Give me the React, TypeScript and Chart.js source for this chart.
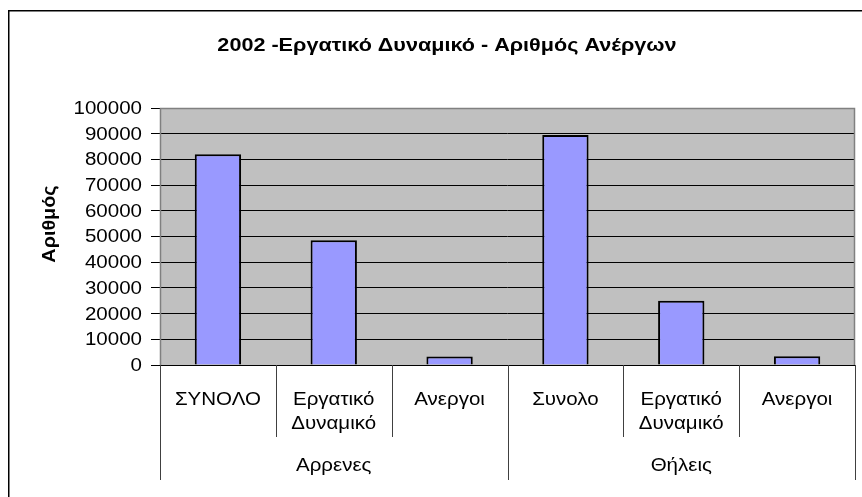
import React, { useEffect, useRef } from "react";
import { Chart, registerables } from "chart.js";

Chart.register(...registerables);

const chartTitle = "2002 -Εργατικό Δυναμικό - Αριθμός Ανέργων";
const yAxisTitle = "Αριθμός";
const categories: string[][] = [
  ["ΣΥΝΟΛΟ"],
  ["Εργατικό", "Δυναμικό"],
  ["Ανεργοι"],
  ["Συνολο"],
  ["Εργατικό", "Δυναμικό"],
  ["Ανεργοι"],
];
const groups = ["Αρρενες", "Θήλεις"];
const groupSizes = [3, 3];
const values = [82000, 48500, 3300, 89500, 25000, 3400];
const yMin = 0;
const yMax = 100000;
const yStep = 10000;

const FONT = '"Liberation Sans", Arial, sans-serif';

function drawText(
  ctx: CanvasRenderingContext2D,
  text: string,
  x: number,
  y: number,
  font: string,
  align: CanvasTextAlign,
  baseline: CanvasTextBaseline,
  sx: number,
  rotate = false
) {
  ctx.save();
  ctx.translate(x, y);
  if (rotate) ctx.rotate(-Math.PI / 2);
  ctx.scale(sx, 1);
  ctx.font = font;
  ctx.fillStyle = "#000";
  ctx.textAlign = align;
  ctx.textBaseline = baseline;
  ctx.fillText(text, 0, 0);
  ctx.restore();
}

const decorPlugin = {
  id: "decor",
  beforeDraw(chart: any) {
    const ctx: CanvasRenderingContext2D = chart.ctx;
    const a = chart.chartArea;
    ctx.save();
    ctx.fillStyle = "#fff";
    ctx.fillRect(0, 0, chart.width, chart.height);
    ctx.strokeStyle = "#000";
    ctx.lineWidth = 1.5;
    ctx.strokeRect(8.75, 10.75, 1000, 1000);
    ctx.fillStyle = "#C0C0C0";
    ctx.fillRect(a.left, a.top, a.right - a.left, a.bottom - a.top);
    ctx.restore();
  },
  afterDraw(chart: any) {
    const ctx: CanvasRenderingContext2D = chart.ctx;
    const a = chart.chartArea;
    const xs = chart.scales.x;
    const ys = chart.scales.y;
    ctx.save();
    ctx.strokeStyle = "#808080";
    ctx.lineWidth = 1.5;
    ctx.beginPath();
    ctx.moveTo(a.left + 0.5, a.bottom);
    ctx.lineTo(a.left + 0.5, a.top + 0.5);
    ctx.lineTo(a.right - 0.5, a.top + 0.5);
    ctx.lineTo(a.right - 0.5, a.bottom);
    ctx.stroke();
    ctx.strokeStyle = "#000";
    ctx.lineWidth = 1;
    ctx.beginPath();
    ctx.moveTo(a.left - 9, Math.round(a.bottom) + 0.5);
    ctx.lineTo(a.right, Math.round(a.bottom) + 0.5);
    ctx.stroke();

    const n = categories.length;
    const half = (xs.getPixelForValue(1) - xs.getPixelForValue(0)) / 2;
    const boundary = (i: number) =>
      i < n ? xs.getPixelForValue(i) - half : xs.getPixelForValue(n - 1) + half;
    const groupEdges: number[] = [0];
    groupSizes.forEach((s) => groupEdges.push(groupEdges[groupEdges.length - 1] + s));
    ctx.strokeStyle = "#404040";
    ctx.lineWidth = 1;
    for (let i = 0; i <= n; i++) {
      const bx = Math.round(boundary(i)) + 0.5;
      const isGroup = groupEdges.includes(i);
      ctx.beginPath();
      ctx.moveTo(bx, a.bottom);
      ctx.lineTo(bx, isGroup ? a.bottom + 115 : a.bottom + 72);
      ctx.stroke();
    }
    const f = `18px ${FONT}`;
    const sx = 1.14;
    categories.forEach((lines, i) => {
      const cx = xs.getPixelForValue(i);
      lines.forEach((ln, j) => {
        drawText(ctx, ln, cx, a.bottom + 40 + j * 24, f, "center", "alphabetic", sx);
      });
    });
    groups.forEach((g, gi) => {
      const cx = (boundary(groupEdges[gi]) + boundary(groupEdges[gi + 1])) / 2;
      drawText(ctx, g, cx, a.bottom + 106, f, "center", "alphabetic", sx);
    });
    ys.ticks.forEach((t: any) => {
      const py = ys.getPixelForValue(t.value);
      drawText(ctx, String(t.value), a.left - 18, py + 1, f, "right", "middle", sx);
    });
    drawText(ctx, chartTitle, 447, 51, `bold 18px ${FONT}`, "center", "alphabetic", 1.2);
    drawText(ctx, yAxisTitle, 55, 224, `bold 18px ${FONT}`, "center", "alphabetic", 1.1, true);
    ctx.restore();
  },
};

export default function App() {
  const ref = useRef<HTMLCanvasElement | null>(null);
  useEffect(() => {
    document.body.style.margin = "0";
    if (!ref.current) return;
    const chart = new Chart(ref.current, {
      type: "bar",
      data: {
        labels: categories,
        datasets: [
          {
            data: values,
            backgroundColor: "#9999FF",
            borderColor: "#000",
            borderWidth: 2,
            categoryPercentage: 1,
            barPercentage: 0.4,
          },
        ],
      },
      options: {
        animation: false,
        responsive: false,
        events: [],
        layout: { padding: { left: 0, right: 7, top: 108, bottom: 0 } },
        plugins: { legend: { display: false }, title: { display: false }, tooltip: { enabled: false } },
        scales: {
          x: {
            type: "category",
            offset: true,
            grid: { display: false },
            border: { display: false },
            ticks: { display: false },
            afterFit: (s: any) => {
              s.height = 132;
            },
          },
          y: {
            min: yMin,
            max: yMax,
            ticks: { display: false, stepSize: yStep },
            grid: { color: "#000", lineWidth: 1, tickLength: 9, tickColor: "#000", drawTicks: true },
            border: { display: false },
            afterFit: (s: any) => {
              s.width = 160;
            },
          },
        },
      },
      plugins: [decorPlugin],
    } as any);
    return () => chart.destroy();
  }, []);
  return (
    <div style={{ width: 862, height: 497 }}>
      <canvas ref={ref} width={862} height={497} style={{ width: 862, height: 497, display: "block" }} />
    </div>
  );
}
